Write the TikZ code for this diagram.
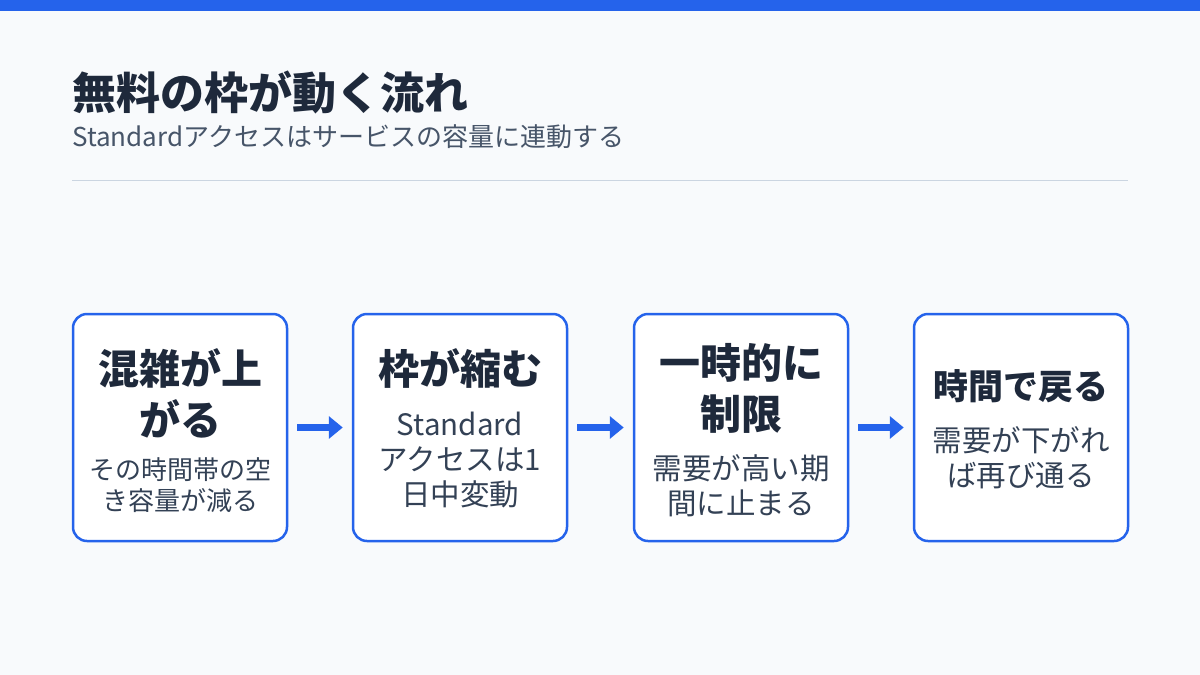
\documentclass[tikz,border=0pt]{standalone}
\usepackage{fontspec}
\setmainfont{Noto Sans CJK JP}
\usetikzlibrary{arrows.meta}
\definecolor{bg}{HTML}{F8FAFC}
\definecolor{blu}{HTML}{2563EB}
\definecolor{dark}{HTML}{1E293B}
\definecolor{mid}{HTML}{334155}
\definecolor{sub}{HTML}{475569}
\definecolor{rule}{HTML}{CBD5E1}
\begin{document}
\begin{tikzpicture}[x=1pt,y=-1pt,
  box/.style={draw=blu,line width=2.5pt,fill=white,rounded corners=14pt,minimum width=214pt,minimum height=227pt},
  ttl/.style={font=\fontsize{41}{51}\selectfont\bfseries,text=dark,align=center},
  bdy/.style={font=\fontsize{29.5}{35}\selectfont,text=mid,align=center},
  arr/.style={-{Triangle[length=14pt,width=22pt]},line width=7pt,blu}]
\fill[bg] (0,0) rectangle (1200,675);
\useasboundingbox (0,0) rectangle (1200,675);
\fill[blu] (0,0) rectangle (1200,11);
\node[anchor=west,font=\fontsize{44}{48}\selectfont\bfseries,text=dark,inner sep=0pt] (title) at (72,92) {無料の枠が動く流れ};
\node[anchor=west,font=\fontsize{26}{30}\selectfont,text=sub,inner sep=0pt] (subt) at (72,137) {Standardアクセスはサービスの容量に連動する};
\draw[rule,line width=1pt] (72,180) -- (1128,180);
\node[box] (b1) at (180,427.5) {};
\node[box] (b2) at (460,427.5) {};
\node[box] (b3) at (741,427.5) {};
\node[box] (b4) at (1021,427.5) {};
\node[ttl] (t1) at (180,393) {混雑が上\\がる};
\node[bdy,font=\fontsize{26}{31}\selectfont] (d1) at (180,485) {その時間帯の空\\き容量が減る};
\node[ttl] (t2) at (460,368) {枠が縮む};
\node[bdy] (d2) at (460,460) {Standard\\アクセスは1\\日中変動};
\node[ttl] (t3) at (741,388) {一時的に\\制限};
\node[bdy] (d3) at (741,486) {需要が高い期\\間に止まる};
\node[ttl,font=\fontsize{35}{42}\selectfont\bfseries] (t4) at (1021,386) {時間で戻る};
\node[bdy] (d4) at (1021,458) {需要が下がれ\\ば再び通る};
\draw[arr] ([xshift=9pt]b1.east) -- ([xshift=-9pt]b2.west);
\draw[arr] ([xshift=9pt]b2.east) -- ([xshift=-9pt]b3.west);
\draw[arr] ([xshift=9pt]b3.east) -- ([xshift=-9pt]b4.west);
\end{tikzpicture}
\end{document}
